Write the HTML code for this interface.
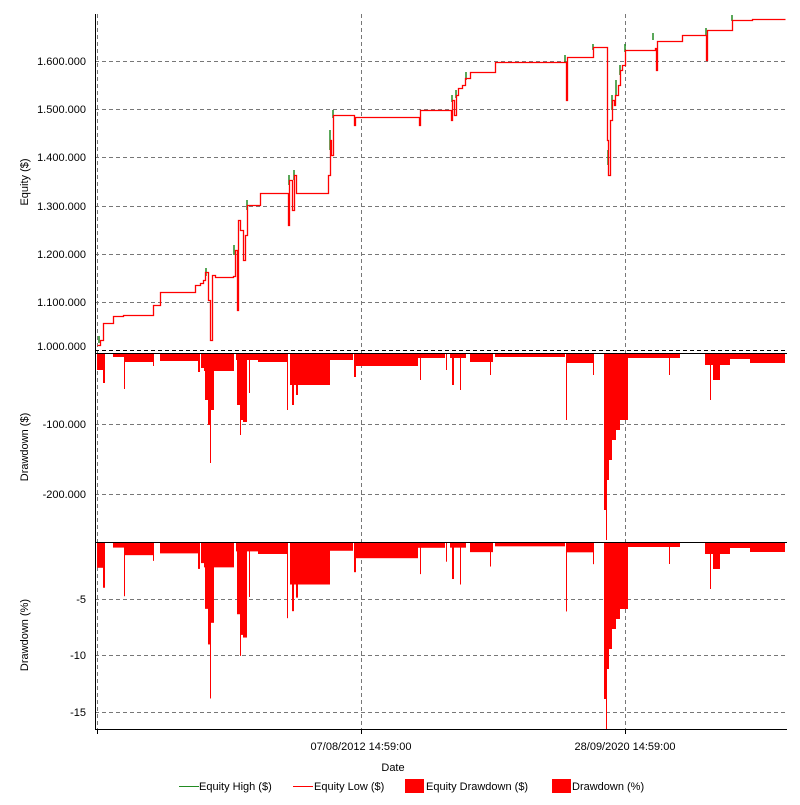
<!DOCTYPE html>
<html><head><meta charset="utf-8"><style>
body{margin:0;background:#fff}
svg text{font-family:"Liberation Sans",sans-serif;font-size:11px;fill:#000}
</style></head><body>
<svg id="s" width="800" height="800" xmlns="http://www.w3.org/2000/svg">
<g stroke="#777" stroke-dasharray="4,3" stroke-width="1">
<line x1="95" y1="61.5" x2="787" y2="61.5"/><line x1="95" y1="109.5" x2="787" y2="109.5"/>
<line x1="95" y1="157.5" x2="787" y2="157.5"/><line x1="95" y1="206.5" x2="787" y2="206.5"/>
<line x1="95" y1="254.5" x2="787" y2="254.5"/><line x1="95" y1="302.5" x2="787" y2="302.5"/>
<line x1="95" y1="424.5" x2="787" y2="424.5"/><line x1="95" y1="494.5" x2="787" y2="494.5"/>
<line x1="95" y1="599.5" x2="787" y2="599.5"/><line x1="95" y1="655.5" x2="787" y2="655.5"/><line x1="95" y1="712.5" x2="787" y2="712.5"/>
<line x1="97.5" y1="14" x2="97.5" y2="729"/><line x1="361.5" y1="14" x2="361.5" y2="729"/><line x1="625.5" y1="14" x2="625.5" y2="729"/>
</g>
<line x1="95" y1="350.5" x2="787" y2="350.5" stroke="#000" stroke-dasharray="4,3"/>
<g id="dd"></g>
<g id="gr" stroke="#228b22" stroke-width="1.5"></g>
<polyline id="eq" fill="none" stroke="#f00" stroke-width="1.3" transform="translate(0.5,0.5)"/>
<g stroke="#000" stroke-width="1">
<line x1="95.5" y1="14" x2="95.5" y2="729"/>
<line x1="95" y1="353.5" x2="787" y2="353.5"/>
<line x1="95" y1="542.5" x2="787" y2="542.5"/>
<line x1="95" y1="729.5" x2="787" y2="729.5"/>
<line x1="97.5" y1="729" x2="97.5" y2="734"/><line x1="361.5" y1="729" x2="361.5" y2="734"/><line x1="625.5" y1="729" x2="625.5" y2="734"/>
</g>
<g text-anchor="end">
<text x="86" y="65">1.600.000</text><text x="86" y="113">1.500.000</text><text x="86" y="161">1.400.000</text>
<text x="86" y="210">1.300.000</text><text x="86" y="258">1.200.000</text><text x="86" y="306">1.100.000</text>
<text x="86" y="350">1.000.000</text>
<text x="86" y="428">-100.000</text><text x="86" y="498">-200.000</text>
<text x="86" y="603">-5</text><text x="86" y="659">-10</text><text x="86" y="716">-15</text>
</g>
<text transform="translate(28,182) rotate(-90)" text-anchor="middle">Equity ($)</text>
<text transform="translate(28,447) rotate(-90)" text-anchor="middle">Drawdown ($)</text>
<text transform="translate(28,635) rotate(-90)" text-anchor="middle">Drawdown (%)</text>
<text x="361" y="750" text-anchor="middle">07/08/2012 14:59:00</text>
<text x="625" y="750" text-anchor="middle">28/09/2020 14:59:00</text>
<text x="393" y="771" text-anchor="middle">Date</text>
<line x1="179" y1="786.5" x2="199" y2="786.5" stroke="#228b22"/><text x="199" y="790">Equity High ($)</text>
<line x1="293" y1="786.5" x2="313" y2="786.5" stroke="#f00"/><text x="314" y="790">Equity Low ($)</text>
<rect x="405" y="779" width="19" height="14" fill="#f00"/><text x="426" y="790">Equity Drawdown ($)</text>
<rect x="552" y="779" width="19" height="14" fill="#f00"/><text x="572" y="790">Drawdown (%)</text>
</svg>
<script>
var eq=[[97,345],[100,345],[100,340],[103,340],[103,323],[113,323],[113,316],[123,316],[123,315],[153,315],[153,305],[160,305],[160,292],[195,292],[195,285],[200,283],[203,280],[205,272],[208,300],[210,340],[212,275],[215,277],[233,276],[235,250],[237,310],[238,220],[240,230],[243,260],[245,235],[247,205],[258,205],[260,193],[287,193],[288,225],[289,180],[292,210],[294,175],[296,193],[328,193],[328,175],[330,140],[331,155],[333,115],[353,115],[354,125],[355,117],[418,117],[419,125],[420,110],[450,110],[451,120],[452,100],[454,115],[456,95],[458,88],[462,85],[465,78],[470,72],[493,72],[495,62],[565,62],[566,100],[567,57],[592,57],[593,47],[606,47],[607,140],[608,175],[610,120],[612,100],[614,105],[615,95],[618,85],[620,70],[622,65],[625,50],[655,48],[656,70],[657,41],[680,41],[682,35],[705,35],[706,60],[707,30],[730,30],[732,20],[750,20],[752,19],[785,19]];
var pts=[eq[0]];for(var i=1;i<eq.length;i++){pts.push([eq[i][0],eq[i-1][1]]);pts.push(eq[i]);}
document.getElementById('eq').setAttribute('points',pts.map(p=>p.join(',')).join(' '));
var g='';[[99,336,343],[206,268,276],[234,245,255],[247,200,210],[289,175,185],[294,170,180],[330,130,150],[333,110,118],[452,95,102],[456,90,98],[466,72,80],[565,55,62],[593,44,50],[608,150,165],[612,95,110],[616,80,95],[620,65,75],[625,44,52],[653,33,40],[706,28,35],[732,15,21]].forEach(a=>{g+='<line x1="'+a[0]+'" y1="'+a[1]+'" x2="'+a[0]+'" y2="'+a[2]+'"/>';});
document.getElementById('gr').innerHTML=g;
var segs=[[97,103,370],[103,105,383],[113,124,357],[124,125,389],[125,153,362],[153,154,366],[160,198,361],[198,200,372],[201,204,368],[204,234,371],[205,208,400],[208,210,425],[210,211,463],[211,214,410],[236,258,360],[237,240,405],[240,241,435],[241,243,420],[243,247,422],[249,250,393],[258,287,362],[287,288,410],[290,330,385],[292,294,405],[296,298,395],[330,353,360],[354,356,377],[356,418,366],[418,445,358],[420,421,380],[446,447,370],[450,466,358],[452,454,385],[460,461,390],[470,493,362],[490,491,375],[495,565,357],[566,567,420],[567,593,363],[593,594,375],[604,628,420],[604,606,510],[606,607,540],[607,609,480],[609,612,460],[612,616,440],[616,620,430],[620,624,405],[625,626,395],[628,680,358],[669,670,375],[705,730,365],[710,711,400],[713,720,380],[730,750,359],[750,785,363]];
var h='';
segs.forEach(s=>{var d=s[2]-354;var w=s[1]-s[0];
h+='<rect x="'+s[0]+'" y="354" width="'+w+'" height="'+d+'" fill="#f00"/>';
var f=Math.max(1,1.55-0.55*(s[0]-97)/503);var dp=Math.min(d*f,186);
h+='<rect x="'+s[0]+'" y="543" width="'+w+'" height="'+dp+'" fill="#f00"/>';});
document.getElementById('dd').innerHTML=h;
</script>
</body></html>
